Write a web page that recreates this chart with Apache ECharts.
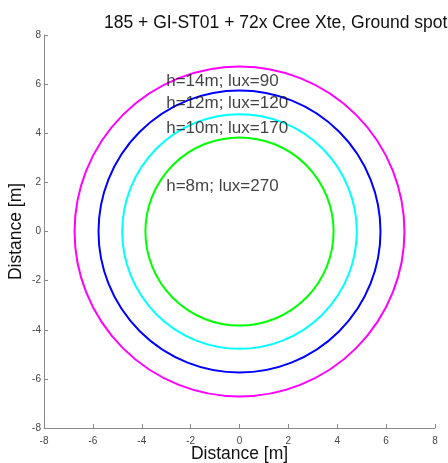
<!DOCTYPE html>
<html><head><meta charset="utf-8">
<script src="https://cdn.jsdelivr.net/npm/echarts@6/dist/echarts.min.js"></script>
<style>html,body{margin:0;padding:0;background:#fff}#c{width:448px;height:463px}</style>
</head><body><div id="c"></div>
<script>
var titleText = '185 + GI-ST01 + 72x Cree Xte, Ground spot';
var ringNames = ['h=14m; lux=90', 'h=12m; lux=120', 'h=10m; lux=170', 'h=8m; lux=270'];
var ringRadii = [6.75, 5.77, 4.8, 3.85];
var ringColors = ['#ff00ff', '#0000ff', '#00ffff', '#00ff00'];
var labelX = [-3.0, -3.0, -3.0, -3.0];
var labelY = [6.1, 5.2, 4.22, 1.83];

var FONT = 'Liberation Sans, Arial, sans-serif';
var chart = echarts.init(document.getElementById('c'));
var series = ringRadii.map(function (r, i) {
  return {
    type: 'custom',
    name: ringNames[i],
    data: [[0, 0, r]],
    renderItem: function (params, api) {
      var c = api.coord([api.value(0), api.value(1)]);
      var s = api.size([api.value(2), api.value(2)]);
      return {
        type: 'circle',
        shape: { cx: c[0], cy: c[1], r: s[0] },
        style: { fill: 'none', stroke: ringColors[i], lineWidth: 2 }
      };
    },
    silent: true
  };
});
series.push({
  type: 'scatter',
  symbolSize: 0,
  data: ringNames.map(function (n, i) { return { value: [labelX[i], labelY[i]], name: n }; }),
  label: {
    show: true, position: 'right', distance: 0,
    formatter: function (p) { return p.name; },
    color: '#111', fontSize: 17, fontFamily: FONT
  },
  silent: true
});
var axisCommon = {
  type: 'value', min: -8, max: 8, interval: 2,
  splitLine: { show: false },
  axisLine: { show: true, onZero: false, lineStyle: { color: '#888', width: 1 } },
  axisTick: { show: true, inside: true, length: 4, lineStyle: { color: '#888' } },
  axisLabel: { color: '#444', fontSize: 10, fontFamily: FONT },
  name: 'Distance [m]', nameLocation: 'middle', nameMoveOverlap: false,
  nameTextStyle: { color: '#111', fontSize: 17.5, fontFamily: FONT }
};
chart.setOption({
  animation: false,
  title: { text: titleText, left: 99, top: 9,
    textStyle: { fontWeight: 'normal', fontSize: 17.5, color: '#111', fontFamily: FONT } },
  grid: { left: 44, right: 13, top: 35, bottom: 35, containLabel: false, outerBoundsMode: 'none' },
  xAxis: Object.assign({}, axisCommon, { nameGap: 17, axisLabel: Object.assign({}, axisCommon.axisLabel, { margin: 8 }) }),
  yAxis: Object.assign({}, axisCommon, { nameGap: 19, axisLabel: Object.assign({}, axisCommon.axisLabel, { margin: 3 }) }),
  series: series
});
</script></body></html>
